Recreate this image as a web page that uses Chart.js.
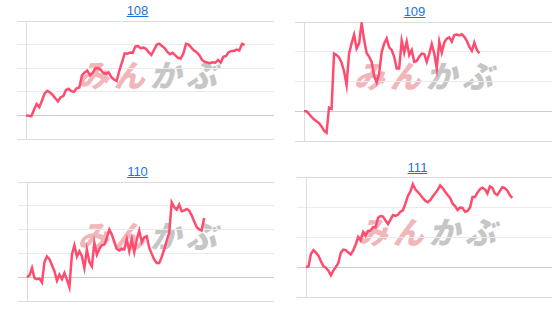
<!DOCTYPE html>
<html>
<head>
<meta charset="utf-8">
<script src="https://cdn.jsdelivr.net/npm/chart.js@4.4.0/dist/chart.umd.min.js"></script>
<style>
    body {
        margin: 0;
        width: 555px;
        height: 312px;
        overflow: hidden;
        position: relative;
        background: #fff;
        font-family: "Liberation Sans", Arial, sans-serif;
    }
    .title {
        position: absolute;
        width: 275px;
        text-align: center;
        font-size: 13px;
        line-height: 15px;
    }
    .title a {
        color: #1a73e8;
        text-decoration: underline;
    }
    .mark {
        position: absolute;
        font-family: "Noto Sans CJK JP", sans-serif;
        font-weight: 900;
        font-size: 31px;
        line-height: 31px;
        letter-spacing: 5px;
        white-space: nowrap;
        transform: translate(-50%, -50%) skewX(-14deg);
    }
    .mark .a { color: #f0b6b9; }
    .mark .b { color: #c6c6c6; }
    canvas { position: absolute; }
</style>
</head>
<body>
<script>
// Fund names shown above each chart
const names = ['108', '109', '110', '111'];

// Number of x slots per chart (the series only fill part of the period)
const slotCounts = [94, 100, 100, 100];

// Series values (same unit per gridline step of 10)
const values108 = [0, -0.1, -0.4, 2.4, 4.8, 3.5, 6.3, 9.3, 10.4, 9.7, 8.7, 7.3, 5.9, 7.7, 8.2, 10.8,
    11.3, 10.3, 10.0, 11.5, 11.8, 17.0, 18.2, 19.0, 17.0, 18.0, 20.0, 20.1, 19.4, 18.0, 17.6, 18.2,
    16.2, 15.2, 14.6, 18.9, 22.5, 26.3, 26.1, 26.6, 26.5, 29.2, 29.4, 28.5, 28.7, 28.2, 26.8, 25.6,
    27.7, 29.9, 30.4, 29.4, 28.5, 26.9, 25.9, 26.5, 25.4, 24.4, 24.1, 26.2, 30.3, 30.0, 28.7, 27.5,
    26.8, 25.5, 23.5, 22.7, 22.4, 22.1, 22.5, 22.3, 23.5, 22.4, 24.8, 25.2, 26.8, 27.3, 27.3, 27.9,
    27.5, 30.3, 29.9];

const values109 = [0, 0, -0.9, -1.9, -2.7, -3.4, -4.0, -5.1, -6.5, -7.2, 1.2, 0.8, 19.4, 18.9, 18.1,
    16.3, 13.4, 8.8, 19.4, 22.8, 25.7, 21.1, 22.8, 29.6, 24.0, 19.6, 18.3, 16.6, 11.8, 9.7, 12.7,
    19.8, 22.8, 24.5, 21.5, 20.6, 18.3, 14.4, 14.4, 23.7, 19.7, 23.4, 18.9, 20.6, 16.6, 16.9, 18.3,
    19.4, 19.2, 16.6, 19.3, 22.6, 19.4, 14.4, 23.4, 19.7, 23.1, 24.4, 24.8, 23.4, 25.6, 25.8, 25.5,
    25.9, 25.0, 23.7, 21.6, 20.3, 23.1, 20.6, 19.5];

const values110 = [0, 0.8, 3.9, -0.4, -0.8, -0.6, -2.2, 6.4, 8.7, 7.6, 5.0, 2.5, -1.4, 1.1, -0.8,
    1.8, -1.0, -4.2, 9.5, 13.4, 8.7, 10.9, 8.8, 3.9, 11.6, 6.4, 4.6, 14.4, 9.5, 11.9, 13.4, 13.7,
    16.5, 20.0, 17.9, 14.8, 11.9, 11.2, 12.0, 11.7, 15.9, 10.9, 15.9, 10.6, 15.9, 19.6, 14.8, 16.8,
    17.2, 12.3, 9.8, 7.4, 6.0, 6.0, 8.5, 11.7, 15.4, 18.6, 31.5, 29.4, 28.4, 30.5, 27.7, 28.0, 28.7,
    28.0, 26.0, 23.5, 21.1, 20.1, 19.6, 24.9];

const values111 = [0, 0.2, 4.4, 5.6, 4.8, 3.8, 1.9, 0.3, -0.2, -1.2, -2.8, -1.2, 0, 1.3, 4.7, 5.8,
    5.6, 4.8, 4.2, 5.5, 7.5, 10.0, 8.9, 11.7, 10.4, 12.0, 12.2, 13.3, 13.2, 16.4, 17.0, 16.8, 15.5,
    14.3, 15.8, 17.3, 17.0, 17.4, 18.4, 18.9, 21.1, 23.7, 25.1, 27.6, 25.9, 25.0, 24.1, 23.0, 22.1,
    21.6, 22.3, 23.5, 24.6, 25.7, 27.2, 26.3, 25.1, 24.0, 23.0, 21.1, 20.3, 19.0, 19.8, 19.7, 18.4,
    18.7, 19.8, 23.3, 23.3, 24.8, 25.9, 26.4, 25.9, 24.5, 26.9, 26.4, 24.5, 24.0, 25.3, 26.6, 26.3,
    25.5, 24.0, 23.0];

// Y axis ranges
const yMins = [-10, -10, -10, -10];
const yMaxs = [40, 30, 40, 30];
const yStep = 10;

const allValues = [values108, values109, values110, values111];

// Panel layout: plot area edges, title position, watermark centre
const panels = [
    { left: 26, right: 274, top: 21, bottom: 139, titleX: 0, titleTop: 2.5, markX: 153, markY: 73 },
    { left: 304, right: 552, top: 22, bottom: 141, titleX: 277, titleTop: 3.5, markX: 429, markY: 74 },
    { left: 27, right: 274, top: 182, bottom: 301, titleX: 0, titleTop: 164, markX: 153, markY: 234 },
    { left: 306, right: 552, top: 177, bottom: 297, titleX: 280, titleTop: 160, markX: 432, markY: 230 }
];

const TICK = 9;

panels.forEach((p, idx) => {
    // title link
    const t = document.createElement('div');
    t.className = 'title';
    t.style.left = p.titleX + 'px';
    t.style.top = p.titleTop + 'px';
    t.innerHTML = '<a href="#">' + names[idx] + '</a>';
    document.body.appendChild(t);

    // watermark behind the chart
    const m = document.createElement('div');
    m.className = 'mark';
    m.style.left = p.markX + 'px';
    m.style.top = p.markY + 'px';
    m.innerHTML = '<span class="a">みん</span><span class="b">かぶ</span>';
    document.body.appendChild(m);

    // canvas
    const padTop = 6, padBottom = 3, padRight = 2;
    const c = document.createElement('canvas');
    const w = p.right - p.left + TICK + padRight;
    const h = p.bottom - p.top + padTop + padBottom;
    c.width = w;
    c.height = h;
    c.style.width = w + 'px';
    c.style.height = h + 'px';
    c.style.left = (p.left - TICK) + 'px';
    c.style.top = (p.top - padTop) + 'px';
    document.body.appendChild(c);

    const labels = Array.from({length: slotCounts[idx]}, (_, i) => i + 1);
    const yMin = yMins[idx], yMax = yMaxs[idx];

    new Chart(c.getContext('2d'), {
        type: 'line',
        data: {
            labels: labels,
            datasets: [{
                data: allValues[idx],
                borderColor: '#ff4b6e',
                borderWidth: 2.5,
                pointRadius: 0,
                tension: 0,
                fill: false
            }]
        },
        options: {
            responsive: false,
            animation: false,
            devicePixelRatio: 1,
            layout: {
                padding: { top: padTop, bottom: padBottom, right: padRight, left: 0 }
            },
            plugins: {
                legend: { display: false },
                tooltip: { enabled: false }
            },
            scales: {
                x: { display: false },
                y: {
                    min: yMin,
                    max: yMax,
                    ticks: { display: false, stepSize: yStep },
                    border: { display: true, color: '#dddddd' },
                    grid: {
                        drawTicks: true,
                        tickLength: TICK,
                        color: ctx => {
                            const v = ctx.tick ? ctx.tick.value : null;
                            if (v === 0) return '#cccccc';
                            if (v === yMin || v === yMax) return '#dcdcdc';
                            return '#ebebeb';
                        }
                    }
                }
            }
        }
    });
});
</script>
</body>
</html>
